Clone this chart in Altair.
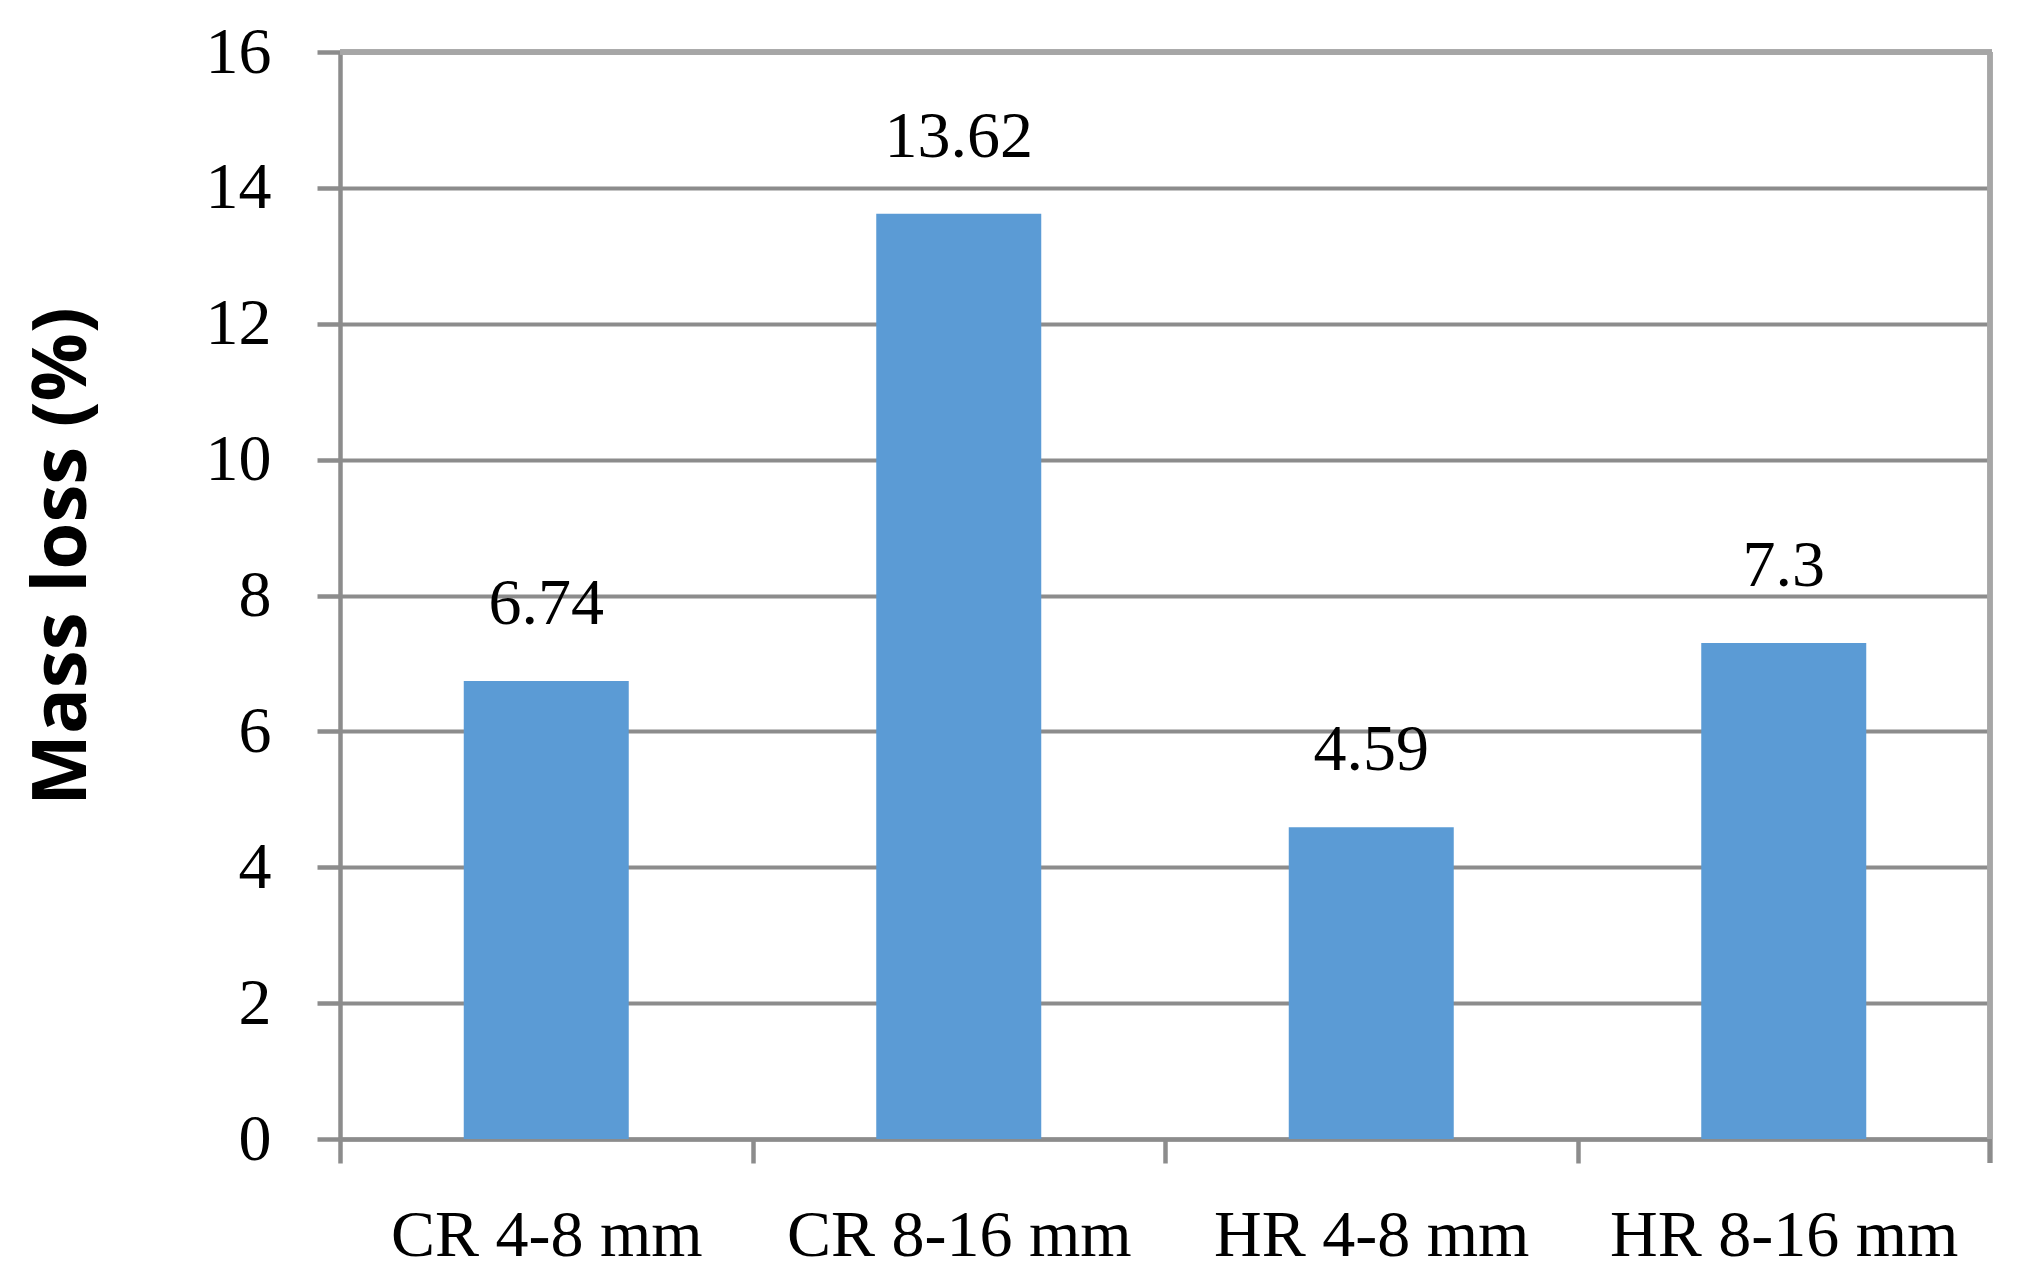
import altair as alt
import pandas as pd

categories = ["CR 4-8 mm", "CR 8-16 mm", "HR 4-8 mm", "HR 8-16 mm"]
values = [6.74, 13.62, 4.59, 7.3]
labels = ["6.74", "13.62", "4.59", "7.3"]
y_ticks = [0, 2, 4, 6, 8, 10, 12, 14, 16]

df = pd.DataFrame({"cat": categories, "val": values, "lab": labels})

W, H = 1650, 1087
SERIF = "Liberation Serif"
GRID = "#8c8c8c"
FRAME = "#a6a6a6"
FS = 66

x = alt.X("cat:N", sort=categories, title=None,
          scale=alt.Scale(paddingInner=0.6, paddingOuter=0.3),
          axis=alt.Axis(labelAngle=0, labelFont=SERIF, labelFontSize=FS,
                        labelColor="black", labelBaseline="alphabetic",
                        labelLimit=0, labelOffset=W / 8,
                        labelPadding=92, tickSize=24, tickWidth=4.5,
                        tickColor=GRID, tickOffset=-W / 8, domainColor=GRID,
                        domainWidth=4.5, grid=False))
y = alt.Y("val:Q", title="Mass loss (%)",
          scale=alt.Scale(domain=[0, 16], nice=False),
          axis=alt.Axis(values=y_ticks, format="d", labelFont=SERIF,
                        labelFontSize=FS, labelColor="black", labelPadding=46,
                        tickSize=23, tickWidth=4.5, tickColor=GRID,
                        domainColor=GRID, domainWidth=4.5, gridColor=GRID,
                        gridWidth=4, gridOpacity=1, titleFont="Open Sans",
                        titleFontWeight="bold", titleFontSize=76,
                        titleColor="black", titleAngle=270,
                        titleAlign="center", titleBaseline="middle",
                        titleX=-278, titleY=504))

bars = alt.Chart(df).mark_bar(color="#5B9BD5").encode(x=x, y=y)
text = alt.Chart(df).mark_text(font=SERIF, fontSize=FS, color="black",
                               baseline="alphabetic", dy=-57).encode(
    x=alt.X("cat:N", sort=categories), y="val:Q", text="lab:N")

frame_top = alt.Chart(df).mark_rule(color=FRAME, strokeWidth=5).encode(
    x=alt.value(0), x2=alt.value(W + 2), y=alt.value(0))
frame_right = alt.Chart(df).mark_rule(color=FRAME, strokeWidth=5).encode(
    x=alt.value(W), y=alt.value(0), y2=alt.value(H))
last_tick = alt.Chart(df).mark_rule(color=GRID, strokeWidth=4.5).encode(
    x=alt.value(W), y=alt.value(H), y2=alt.value(H + 24))

chart = alt.layer(bars, text, frame_top, frame_right, last_tick).properties(
    width=W, height=H,
    autosize=alt.AutoSizeParams(type="none"),
    padding={"left": 332, "top": 44, "right": 22, "bottom": 140},
    background="white",
).configure_view(stroke=None)

chart.save("out.html", embed_options={"renderer": "svg", "actions": False})
